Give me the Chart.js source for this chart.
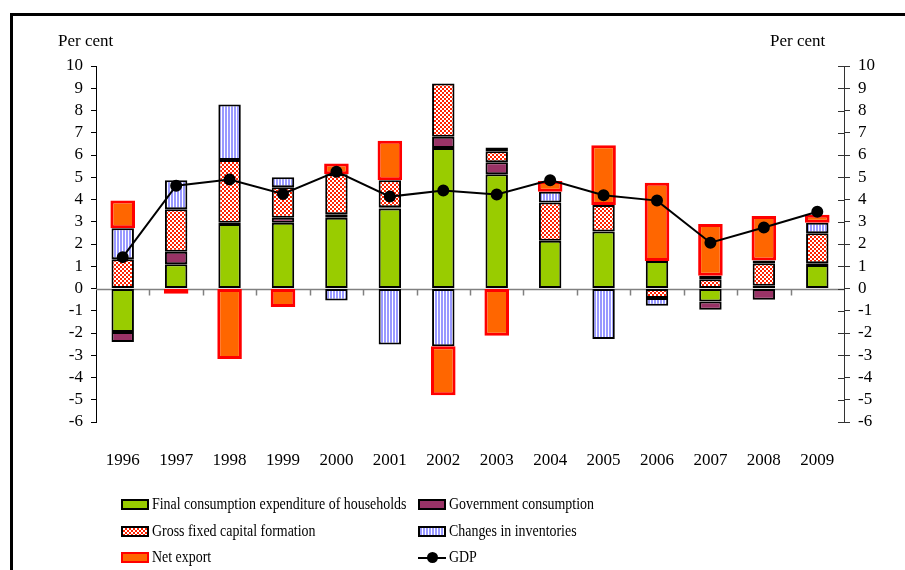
<!DOCTYPE html>
<html>
<head>
<meta charset="utf-8">
<script src="https://cdn.jsdelivr.net/npm/chart.js@4.4.1/dist/chart.umd.min.js"></script>
<style>
  html, body { margin: 0; padding: 0; background: #fff; }
  #wrap { position: relative; width: 905px; height: 570px; overflow: hidden; font-family: "Liberation Serif", serif; color: #000; }
  #frame { position: absolute; left: 10px; top: 13px; width: 1000px; height: 1000px; border-top: 3px solid #000; border-left: 3px solid #000; }
  canvas { position: absolute; left: 0; top: 0; }
  .unit { position: absolute; top: 31px; font-size: 17px; }
  .leg { position: absolute; font-size: 16px; line-height: 20px; white-space: nowrap; transform: scaleX(0.87); transform-origin: left center; }
  .sw { position: absolute; width: 24px; height: 7px; border: 2px solid #000; }
</style>
</head>
<body>
<div id="wrap">
  <div id="frame"></div>
  <canvas id="chart" width="905" height="570"></canvas>
  <div class="unit" style="left:58px">Per cent</div>
  <div class="unit" style="left:770px">Per cent</div>
  <div id="legend"></div>
</div>
<script>
// Bidrag til BNP-vekst, prosentpoeng
const years = ['1996', '1997', '1998', '1999', '2000', '2001', '2002', '2003', '2004', '2005', '2006', '2007', '2008', '2009'];
const households = [-1.95, 1.09, 2.9, 2.96, 3.18, 3.6, 6.32, 5.14, 2.15, 2.56, 1.24, -0.58, 0.12, 1.06];
const government = [-0.45, 0.56, 0.05, 0.22, 0.16, 0.05, 0.5, 0.53, 0, 0, 0, -0.38, -0.51, 0.08];
const gfcf = [1.32, 1.91, 2.82, 1.37, 1.79, 1.22, 2.39, 0.5, 1.72, 1.19, -0.43, 0.42, 1.02, 1.34];
const inventories = [1.39, 1.31, 2.5, 0.45, -0.54, -2.52, -2.6, 0.17, 0.48, -2.27, -0.35, 0.15, 0.12, 0.48];
const netExport = [1.24, -0.24, -3.17, -0.83, 0.49, 1.77, -2.2, -2.12, 0.48, 2.69, 3.51, 2.33, 2.0, 0.36];
const gdp = [1.41, 4.62, 4.9, 4.25, 5.25, 4.13, 4.4, 4.23, 4.87, 4.19, 3.95, 2.06, 2.74, 3.45];
const yTicks = [10, 9, 8, 7, 6, 5, 4, 3, 2, 1, 0, -1, -2, -3, -4, -5, -6];

const FONT = 'Liberation Serif';

function makePattern(w, h, draw) {
    const c = document.createElement('canvas');
    c.width = w; c.height = h;
    const g = c.getContext('2d');
    draw(g);
    return g.createPattern(c, 'repeat');
}

const ctx = document.getElementById('chart').getContext('2d');

const checker = makePattern(4, 4, g => {
    g.fillStyle = '#ff2200';
    g.fillRect(0, 0, 4, 4);
    g.fillStyle = '#ffffff';
    g.fillRect(0, 0, 2, 2);
    g.fillRect(2, 2, 2, 2);
});
const stripes = makePattern(3, 1, g => {
    g.fillStyle = '#ffffff';
    g.fillRect(0, 0, 3, 1);
    g.fillStyle = '#9999ff';
    g.fillRect(0, 0, 2, 1);
});

const legendItems = [
    { label: 'Final consumption expenditure of households', bg: '#99cc00', x: 121, y: 494 },
    { label: 'Government consumption', bg: '#993366', x: 418, y: 494 },
    { label: 'Gross fixed capital formation', bg: 'repeating-conic-gradient(#ff2200 0 25%, #fff 0 50%) 0 0/4px 4px', x: 121, y: 521 },
    { label: 'Changes in inventories', bg: 'repeating-linear-gradient(90deg, #9999ff 0 2px, #fff 2px 3px)', x: 418, y: 521 },
    { label: 'Net export', bg: '#ff6600', border: '#ff0000', x: 121, y: 547 },
    { label: 'GDP', line: true, x: 418, y: 547 }
];

const legend = document.getElementById('legend');
legendItems.forEach(it => {
    const d = document.createElement('div');
    d.className = 'leg';
    d.style.left = (it.x + 31) + 'px';
    d.style.top = it.y + 'px';
    d.textContent = it.label;
    legend.appendChild(d);
    if (it.line) {
        const l = document.createElement('div');
        l.style.cssText = `position:absolute;left:${it.x}px;top:${it.y + 10}px;width:28px;height:2px;background:#000`;
        const p = document.createElement('div');
        p.style.cssText = `position:absolute;left:${it.x + 9}px;top:${it.y + 5}px;width:11px;height:11px;border-radius:50%;background:#000`;
        legend.appendChild(l);
        legend.appendChild(p);
    } else {
        const s = document.createElement('div');
        s.className = 'sw';
        s.style.left = it.x + 'px';
        s.style.top = (it.y + 5) + 'px';
        s.style.background = it.bg;
        if (it.border) s.style.borderColor = it.border;
        legend.appendChild(s);
    }
});

// zero line + category ticks, inner ticks on right axis
const axisDeco = {
    id: 'axisDeco',
    beforeDatasetsDraw(chart) {
        const { ctx, scales: { x, y }, chartArea } = chart;
        const y0 = Math.round(y.getPixelForValue(0)) + 0.5;
        const step = (chartArea.right - chartArea.left) / years.length;
        ctx.save();
        ctx.strokeStyle = '#808080';
        ctx.lineWidth = 1.5;
        ctx.beginPath();
        ctx.moveTo(chartArea.left, y0);
        ctx.lineTo(chartArea.right, y0);
        for (let i = 1; i < years.length; i++) {
            const bx = Math.round(x.getPixelForValue(i) - step / 2) + 0.5;
            ctx.moveTo(bx, y0);
            ctx.lineTo(bx, y0 + 6);
        }
        ctx.stroke();
        ctx.strokeStyle = '#333';
        ctx.lineWidth = 1;
        ctx.beginPath();
        yTicks.forEach(v => {
            const ty = Math.round(y.getPixelForValue(v)) + 0.5;
            ctx.moveTo(chartArea.right - 6, ty);
            ctx.lineTo(chartArea.right, ty);
        });
        ctx.stroke();
        ctx.restore();
    }
};

const barBase = {
    type: 'bar',
    borderColor: '#000',
    borderWidth: 2,
    borderSkipped: false,
    categoryPercentage: 1,
    barPercentage: 0.42,
    stack: 'contrib',
    order: 1
};

new Chart(ctx, {
    data: {
        labels: years,
        datasets: [
            { ...barBase, label: 'Final consumption expenditure of households', data: households, backgroundColor: '#99cc00' },
            { ...barBase, label: 'Government consumption', data: government, backgroundColor: '#993366' },
            { ...barBase, label: 'Gross fixed capital formation', data: gfcf, backgroundColor: checker },
            { ...barBase, label: 'Changes in inventories', data: inventories, backgroundColor: stripes },
            { ...barBase, label: 'Net export', data: netExport, backgroundColor: '#ff6600', borderColor: '#ff0000', borderWidth: 3, barPercentage: 0.46 },
            {
                type: 'line', label: 'GDP', data: gdp, stack: 'gdp', order: 0,
                borderColor: '#000', borderWidth: 2, tension: 0,
                pointRadius: 5, pointBackgroundColor: '#000', pointBorderColor: '#000'
            }
        ]
    },
    options: {
        responsive: false,
        animation: false,
        events: [],
        layout: { padding: { top: 66, left: 0, right: 0, bottom: 0 } },
        plugins: { legend: { display: false }, tooltip: { enabled: false } },
        scales: {
            x: {
                stacked: true,
                grid: { display: false },
                border: { display: false },
                ticks: { color: '#000', padding: 20, font: { family: FONT, size: 17 }, maxRotation: 0 },
                afterFit: s => { s.height = 148; }
            },
            y: {
                position: 'left',
                stacked: true,
                min: -6, max: 10,
                grid: { drawOnChartArea: false, drawTicks: true, tickLength: 5, color: '#000' },
                border: { display: true, color: '#000', width: 1 },
                ticks: { stepSize: 1, autoSkip: false, color: '#000', padding: 8, font: { family: FONT, size: 17 } },
                afterFit: s => { s.width = 96; }
            },
            y2: {
                position: 'right',
                min: -6, max: 10,
                grid: { drawOnChartArea: false, drawTicks: true, tickLength: 6, color: '#333' },
                border: { display: true, color: '#333', width: 1 },
                ticks: { stepSize: 1, autoSkip: false, color: '#000', padding: 8, font: { family: FONT, size: 17 } },
                afterFit: s => { s.width = 61; }
            }
        }
    },
    plugins: [axisDeco]
});
</script>
</body>
</html>
